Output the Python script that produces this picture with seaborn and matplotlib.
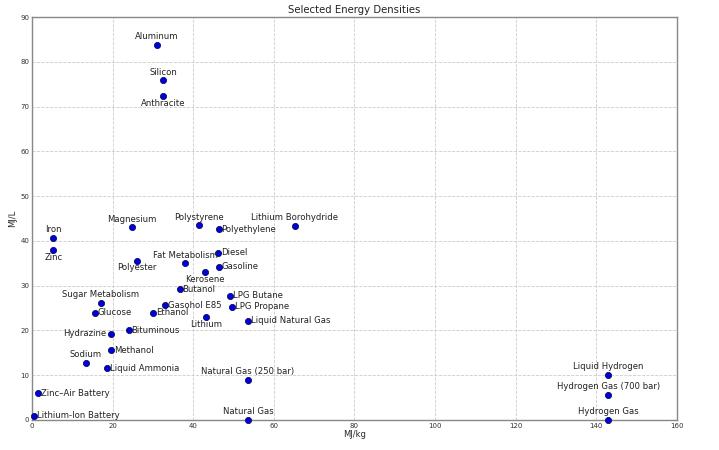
import matplotlib
matplotlib.use("Agg")
import pandas as pd
import seaborn as sns
import matplotlib.pyplot as plt

# energy densities (MJ/kg, MJ/L) and where the label sits relative to the point
names = ["Aluminum", "Silicon", "Anthracite", "Iron", "Zinc", "Magnesium",
         "Polystyrene", "Polyethylene", "Lithium Borohydride", "Polyester",
         "Fat Metabolism", "Diesel", "Gasoline", "Kerosene", "Butanol",
         "Sugar Metabolism", "Glucose", "Gasohol E85", "Ethanol", "LPG Butane",
         "LPG Propane", "Lithium", "Liquid Natural Gas", "Hydrazine", "Bituminous",
         "Methanol", "Sodium", "Liquid Ammonia", "Natural Gas (250 bar)",
         "Zinc\u2013Air Battery", "Lithium-Ion Battery", "Natural Gas",
         "Liquid Hydrogen", "Hydrogen Gas (700 bar)", "Hydrogen Gas"]
mj_kg = [31.0, 32.6, 32.5, 5.2, 5.3, 24.7,
         41.4, 46.3, 65.2, 26.0,
         38.0, 46.2, 46.4, 42.8, 36.6,
         17.0, 15.55, 33.1, 30.0, 49.1,
         49.6, 43.1, 53.6, 19.5, 24.0,
         19.7, 13.3, 18.6, 53.6,
         1.59, 0.46, 53.6,
         143.0, 143.0, 143.0]
mj_l = [83.8, 75.9, 72.4, 40.68, 38.0, 43.0,
        43.5, 42.6, 43.4, 35.6,
        35.0, 37.3, 34.2, 33.0, 29.2,
        26.2, 23.9, 25.65, 24.0, 27.7,
        25.3, 23.0, 22.2, 19.3, 20.0,
        15.6, 12.8, 11.5, 9.0,
        6.02, 0.9, 0.0364,
        10.1, 5.6, 0.0107]
label_pos = ["above", "above", "below", "above", "below", "above",
             "above", "right", "above", "below",
             "above", "right", "right", "below", "right",
             "above", "right", "right", "right", "right",
             "right", "below", "right", "left", "right",
             "right", "above", "right", "above",
             "right", "right", "above",
             "above", "above", "above"]

df = pd.DataFrame({"name": names, "MJ/kg": mj_kg, "MJ/L": mj_l, "pos": label_pos})

sns.set_style("whitegrid")
plt.rcParams["font.family"] = ["DejaVu Sans"]

fig = plt.figure(figsize=(7.19, 4.5), dpi=100)
ax = fig.add_axes([0.0445, 0.0667, 0.897, 0.8955])

sns.scatterplot(data=df, x="MJ/kg", y="MJ/L", ax=ax, color="#0000dd",
                edgecolor="#000040", linewidth=0.5, s=20, zorder=3, clip_on=False)

offsets = {"above": ((0, 2.5), "center", "bottom"),
           "below": ((0, -2), "center", "top"),
           "right": ((2, 0), "left", "center"),
           "left": ((-3, 0), "right", "center")}
for _, row in df.iterrows():
    off, ha, va = offsets[row["pos"]]
    ax.annotate(row["name"], (row["MJ/kg"], row["MJ/L"]), xytext=off,
                textcoords="offset points", ha=ha, va=va, fontsize=6.1, color="#222222")

ax.set_xlim(0, 160)
ax.set_ylim(0, 90)
ax.set_xticks(range(0, 161, 20))
ax.set_yticks(range(0, 91, 10))
ax.grid(True, color="#cccccc", linestyle="--", linewidth=0.6)
for sp in ax.spines.values():
    sp.set_color("#888888")
    sp.set_linewidth(1.0)
ax.tick_params(direction="in", length=3, labelsize=5, colors="#333333", pad=2)
ax.set_title("Selected Energy Densities", fontsize=7.3, color="#222222", pad=3)
ax.set_xlabel("MJ/kg", fontsize=6, labelpad=1)
ax.set_ylabel("MJ/L", fontsize=6, labelpad=2)

plt.savefig("out.png", dpi=100)
